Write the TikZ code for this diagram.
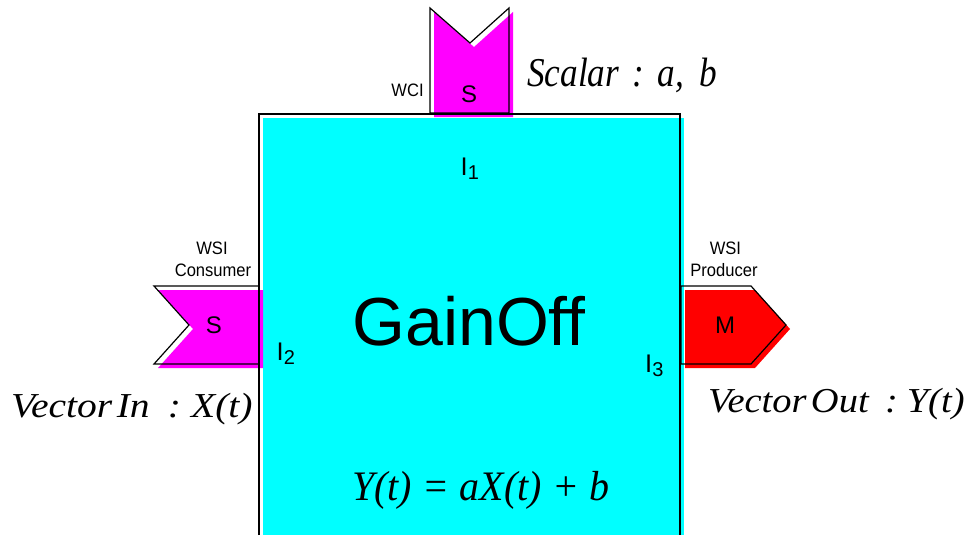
\documentclass[tikz,border=0pt]{standalone}
\usepackage{fontspec}
\setmainfont{Liberation Serif}
\newfontfamily\arial{Liberation Sans}
\newfontfamily\arialn[FakeStretch=0.92]{Liberation Sans}
\definecolor{cy}{RGB}{0,255,255}
\definecolor{mg}{RGB}{255,0,255}
\definecolor{rd}{RGB}{255,0,0}
\begin{document}
\begin{tikzpicture}[x=1pt,y=-1pt]
\tikzset{
  outl/.style={draw=black, line width=1.2pt, line join=miter},
  smalltxt/.style={font=\arialn\fontsize{18}{18}\selectfont, inner sep=0, anchor=base},
  portlbl/.style={font=\arial\fontsize{24}{24}\selectfont, inner sep=0, anchor=base},
  ilbl/.style={font=\arial, inner sep=0, anchor=base west},
  ital/.style={inner sep=0, anchor=base west},
}
\useasboundingbox (0,0) rectangle (968,535);
% fills (offset)
\fill[cy] (263,118) rectangle (684,535);
\begin{scope}[shift={(4,4)}]
\fill[mg] (430,8) -- (470,43) -- (509,8) -- (509,113) -- (430,113) -- cycle;
\fill[mg] (154,286) -- (259,286) -- (259,364) -- (154,364) -- (189,325) -- cycle;
\fill[rd] (681,286) -- (751,286) -- (786,325) -- (751,364) -- (681,364) -- cycle;
\end{scope}
% outlines
\draw[outl] (259,535) -- (259,114) -- (680,114) -- (680,535);
\draw[outl] (430,8) -- (470,43) -- (509,8) -- (509,113) -- (430,113) -- cycle;
\draw[outl] (154,286) -- (259,286) -- (259,364) -- (154,364) -- (189,325) -- cycle;
\draw[outl] (681,286) -- (751,286) -- (786,325) -- (751,364) -- (681,364) -- cycle;
% small labels
\node[smalltxt] (wci) at (407.5,96) {WCI};
\node[smalltxt] (wsil) at (212,254) {WSI};
\node[smalltxt] (cons) at (213,276) {Consumer};
\node[smalltxt] (wsir) at (725.4,254) {WSI};
\node[smalltxt] (prod) at (724,276) {Producer};
% port letters
\node[portlbl] (stop) at (469,102) {S};
\node[portlbl] (sleft) at (214,333) {S};
\node[portlbl] (mright) at (725,333) {M};
% interface labels
\node[ilbl] (i1) at (460.5,175) {\fontsize{25.5}{25}\selectfont I\raisebox{-4pt}{\fontsize{20}{20}\selectfont 1}};
\node[ilbl] (i2) at (276.5,360) {\fontsize{25.5}{25}\selectfont I\raisebox{-4pt}{\fontsize{20}{20}\selectfont 2}};
\node[ilbl] (i3) at (645,372) {\fontsize{25.5}{25}\selectfont I\raisebox{-4pt}{\fontsize{20}{20}\selectfont 3}};
% title
\node[font=\arial\fontsize{68}{68}\selectfont, inner sep=0, anchor=base] (title) at (469,345) {GainOff};
% italic texts
\node[ital] (scalar) at (527,86.5) {\scalebox{0.86}[1]{\fontsize{41}{41}\selectfont\itshape Scalar\hspace{15pt}:\hspace{16pt}a,\hspace{18pt}b}};
\node[ital] (vin) at (11,417) {\scalebox{1.13}[1]{\fontsize{35}{35}\selectfont\itshape Vector\hspace{4pt}In\hspace{16pt}:\hspace{9pt}X(t)}};
\node[ital] (vout) at (708,412) {\scalebox{1.1}[1]{\fontsize{35}{35}\selectfont\itshape Vector\hspace{4pt}Out\hspace{15pt}:\hspace{8pt}Y(t)}};
\node[ital] (eq) at (352,500) {\scalebox{0.95}[1]{\fontsize{42}{42}\selectfont\itshape Y(t)\hspace{11pt}=\hspace{11pt}aX(t)\hspace{11pt}+\hspace{11pt}b}};
\end{tikzpicture}
\end{document}
